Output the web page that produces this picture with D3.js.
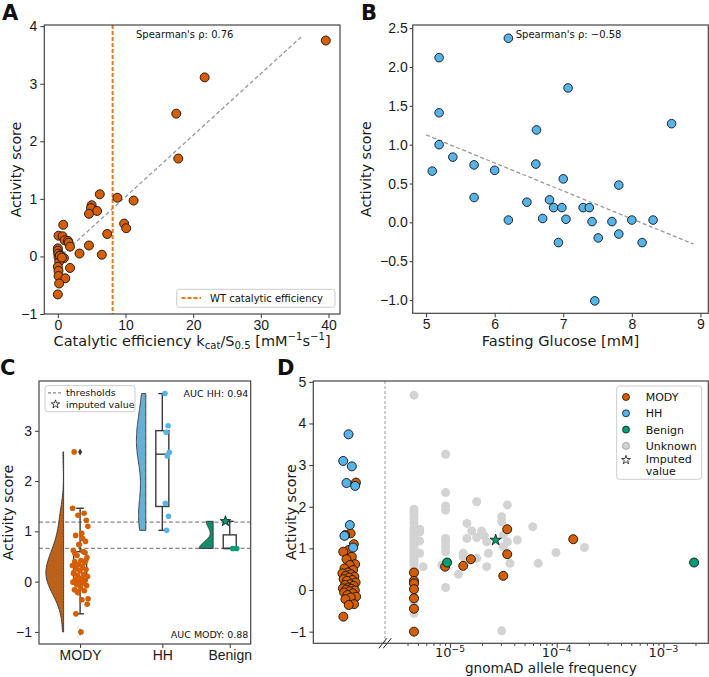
<!DOCTYPE html>
<html><head><meta charset="utf-8">
<script src="https://cdn.jsdelivr.net/npm/d3@7"></script>
<style>
body{margin:0;background:#fff;}
svg{display:block;font-family:"DejaVu Sans","Liberation Sans",sans-serif;}
text{white-space:pre;}
</style></head><body>
<svg id="fig" width="709" height="677"></svg>
<script>
// ================= DATA =================
// Panel A: catalytic efficiency vs activity score
const efficiencyA = [39.6,21.7,17.5,17.8,6.2,8.8,11.2,5.0,4.9,5.8,4.6,9.8,10.1,0.8,0.1,0.7,1.0,1.5,1.6,1.8,7.3,4.6,3.2,6.5,0.0,0.0,0.05,0.1,0.4,0.9,0.2,0.0,1.8,0.1,0.1,1.1,0.2,0.0,0.3,0.6];
const activityA   = [3.75,3.11,2.48,1.70,1.08,1.02,0.97,0.89,0.84,0.79,0.74,0.57,0.49,0.55,0.36,0.35,0.28,0.27,0.24,0.17,0.39,0.19,0.05,0.03,0.14,0.10,0.05,-0.01,0.02,-0.03,-0.09,-0.18,-0.20,-0.25,-0.34,-0.38,-0.47,-0.66,0.01,-0.02];
const wtEfficiency = 8.1;
const fitA = {slope:0.107, intercept:-0.035, from:0, to:36};
const spearmanA = "Spearman's ρ: 0.76";
const ticksAx = [0,10,20,30,40];
const ticksAy = [-1,0,1,2,3,4];

// Panel B: fasting glucose vs activity score
const glucoseB  = [6.20,5.19,7.07,5.19,8.58,6.61,5.19,5.39,6.60,5.70,6.00,5.09,7.00,7.81,5.70,6.47,6.80,6.86,6.98,7.29,7.38,6.20,6.70,7.04,7.42,7.71,8.00,8.31,6.93,7.51,7.81,8.15,7.46];
const activityB = [2.37,2.12,1.73,1.41,1.27,1.19,1.00,0.84,0.75,0.74,0.67,0.66,0.56,0.48,0.32,0.26,0.29,0.19,0.19,0.19,0.19,0.03,0.05,0.04,0.01,0.01,0.03,0.03,-0.26,-0.20,-0.15,-0.26,-1.01];
const fitB = {slope:-0.360, intercept:2.925, from:5.0, to:8.9};
const spearmanB = "Spearman's ρ: −0.58";
const ticksBx = [5,6,7,8,9];
const ticksBy = [-1.0,-0.5,0.0,0.5,1.0,1.5,2.0,2.5];

// Panel C / D: activity scores per group
const categories = ["MODY","HH","Benign"];
const modyAbsent = [2.58,1.36,1.32,1.10,0.96,0.92,0.80,0.74,0.62,0.60,0.52,0.48,0.42,0.40,0.38,0.34,0.32,0.30,0.26,0.24,0.22,0.18,0.14,0.12,0.10,0.06,0.04,0.03,0.01,-0.01,-0.03,-0.06,-0.08,-0.12,-0.16,-0.18,-0.22,-0.34,-0.36,-0.64];
const modyGnomadFreq  = [4.6e-6,4.6e-6,4.6e-6,4.6e-6,4.6e-6,4.6e-6,4.6e-6,9.0e-6,1.33e-5,1.57e-5,3.44e-5,3.44e-5,3.16e-5,1.43e-4];
const modyGnomadScore = [0.42,0.22,0.16,0.02,-0.20,-0.45,-1.00,0.56,0.58,0.74,1.46,0.86,0.34,1.22];
const hhAbsent = [3.74,3.10,2.97,2.57,2.50,1.56,1.30,1.02];
const benignFreq  = [9.4e-6,1.94e-3];
const benignScore = [0.66,0.66];
const imputedFreq = 2.68e-5;
const imputedScore = 1.2;
const thresholds = [0.66,1.185];
const aucHH = "AUC HH: 0.94";
const aucMODY = "AUC MODY: 0.88";
const ticksCy = [-1,0,1,2,3];

// Panel D: unknown variants (gnomAD allele frequency, activity score)
const unknownFreq = [
 4.6e-6,4.6e-6,4.6e-6,4.6e-6,4.6e-6,4.6e-6,4.6e-6,4.6e-6,4.6e-6,4.6e-6,4.6e-6,4.6e-6,4.6e-6,4.6e-6,4.6e-6,4.6e-6,4.6e-6,4.6e-6,
 4.6e-6,4.6e-6,4.6e-6,4.6e-6,4.6e-6,4.6e-6,4.6e-6,4.6e-6,4.6e-6,4.6e-6,4.6e-6,4.6e-6,4.6e-6,4.6e-6,4.6e-6,4.6e-6,4.6e-6,
 5.2e-6,5.2e-6,5.2e-6,5.2e-6,5.6e-6,8.4e-6,
 9.1e-6,9.1e-6,9.1e-6,9.1e-6,9.1e-6,9.1e-6,9.1e-6,9.1e-6,9.1e-6,
 1.2e-5,1.33e-5,1.33e-5,1.44e-5,1.44e-5,1.6e-5,1.78e-5,1.78e-5,1.78e-5,1.98e-5,2.1e-5,2.21e-5,2.21e-5,2.29e-5,
 3.05e-5,3.05e-5,3.05e-5,3.16e-5,3.16e-5,3.45e-5,3.45e-5,3.65e-5,4.28e-5,5.96e-5,6.72e-5,9.85e-5,1.82e-4];
const unknownScore = [
 4.68,1.94,1.86,1.78,1.70,1.62,1.52,1.44,1.38,1.31,1.26,1.20,1.14,1.08,1.02,0.97,0.92,0.86,
 0.81,0.76,0.70,0.66,0.61,0.52,0.47,0.36,0.28,0.24,0.12,0.06,-0.06,-0.14,-0.28,-0.40,-0.56,
 1.46,1.40,1.18,0.88,0.56,0.60,
 3.26,2.34,2.02,1.92,1.24,1.16,1.04,0.92,0.06,
 0.38,0.88,0.80,1.60,1.24,1.42,2.12,1.26,0.76,1.42,1.30,1.16,0.56,0.88,
 1.76,1.64,-0.98,1.32,1.04,2.04,1.16,0.64,1.20,1.52,0.64,0.90,1.02];
const ticksDy = [-1,0,1,2,3,4,5];
const ticksDxMajor = [1e-5,1e-4,1e-3];
const legendD = ["MODY","HH","Benign","Unknown"];

// ================= STYLE / LAYOUT =================
const COL = {MODY:"#d55e00", HH:"#56b4e9", Benign:"#029e73", Unknown:"#d3d3d3"};
const VIOLIN = {MODY:"#ba611b", HH:"#68afd7", Benign:"#168a6a"};
const FS = 14;
const LFS = 14.2;
const svg = d3.select("#fig");
const PA = {l:44.3, r:340, t:25, b:314};
const PB = {l:412.7, r:708.3, t:25, b:313.3};
const PC = {l:39, r:250.7, t:381, b:644};
const PD = {l:313.3, r:708.3, t:381, b:643.3, brk:385};

function styleAxis(g){
  g.select(".domain").remove();
  g.selectAll(".tick line").attr("stroke","#333").attr("stroke-width",1);
  g.selectAll(".tick text").attr("font-size",FS).attr("fill","#1a1a1a").attr("font-family",null);
}
function frame(P){
  svg.append("rect").attr("x",P.l).attr("y",P.t).attr("width",P.r-P.l).attr("height",P.b-P.t)
    .attr("fill","none").attr("stroke","#444").attr("stroke-width",1.2);
}
function yLabel(x,y,txt){
  svg.append("text").attr("transform",`translate(${x},${y}) rotate(-90)`).attr("text-anchor","middle")
    .attr("font-size",LFS).attr("fill","#1a1a1a").text(txt);
}
function panelLetter(x,y,t){
  svg.append("text").attr("x",x).attr("y",y).attr("font-size",21).attr("font-weight","bold").attr("fill","#111").text(t);
}
const jit = i => ((i*0.6180339887 + 0.13) % 1) - 0.5;

// ================= PANEL A =================
const xA = d3.scaleLinear().domain([-2,41.7]).range([PA.l,PA.r]);
const yA = d3.scaleLinear().domain([-1,4.02]).range([PA.b,PA.t]);
svg.append("g").attr("transform",`translate(0,${PA.b})`)
  .call(d3.axisBottom(xA).tickValues(ticksAx).tickSize(4).tickPadding(2).tickFormat(d3.format("d"))).call(styleAxis);
svg.append("g").attr("transform",`translate(${PA.l},0)`)
  .call(d3.axisLeft(yA).tickValues(ticksAy).tickSize(4).tickPadding(3).tickFormat(d3.format("d"))).call(styleAxis);
svg.append("line").attr("x1",xA(fitA.from)).attr("y1",yA(fitA.intercept+fitA.slope*fitA.from))
  .attr("x2",xA(fitA.to)).attr("y2",yA(fitA.intercept+fitA.slope*fitA.to))
  .attr("stroke","#999").attr("stroke-width",1.3).attr("stroke-dasharray","4,2.5");
svg.append("line").attr("x1",xA(wtEfficiency)).attr("x2",xA(wtEfficiency)).attr("y1",PA.t).attr("y2",PA.b)
  .attr("stroke","#e8781f").attr("stroke-width",2).attr("stroke-dasharray","4,2");
svg.append("g").selectAll("circle").data(efficiencyA).join("circle")
  .attr("cx",d=>xA(d)).attr("cy",(d,i)=>yA(activityA[i])).attr("r",4.5)
  .attr("fill",COL.MODY).attr("stroke","#111").attr("stroke-width",0.9);
svg.append("text").attr("x",136).attr("y",38).attr("font-size",10).attr("fill","#111").text(spearmanA);
svg.append("rect").attr("x",176.7).attr("y",289.3).attr("width",158.3).attr("height",18).attr("rx",2.5)
  .attr("fill","#fff").attr("fill-opacity",0.85).attr("stroke","#ccc");
svg.append("line").attr("x1",181.5).attr("x2",201).attr("y1",298).attr("y2",298)
  .attr("stroke","#e8781f").attr("stroke-width",2).attr("stroke-dasharray","4,2");
svg.append("text").attr("x",210).attr("y",301.8).attr("font-size",10).attr("fill","#111").text("WT catalytic efficiency");
frame(PA);
yLabel(20.5,(PA.t+PA.b)/2,"Activity score");
{
  const t = svg.append("text").attr("x",(PA.l+PA.r)/2).attr("y",345.5).attr("text-anchor","middle")
    .attr("font-size",14.5).attr("fill","#1a1a1a");
  t.append("tspan").text("Catalytic efficiency k");
  t.append("tspan").attr("font-size","70%").attr("dy",3.5).text("cat");
  t.append("tspan").attr("dy",-3.5).text("/S");
  t.append("tspan").attr("font-size","70%").attr("dy",3.5).text("0.5");
  t.append("tspan").attr("dy",-3.5).text(" [mM");
  t.append("tspan").attr("font-size","70%").attr("dy",-5.5).text("−1");
  t.append("tspan").attr("dy",5.5).text("s");
  t.append("tspan").attr("font-size","70%").attr("dy",-5.5).text("−1");
  t.append("tspan").attr("dy",5.5).text("]");
}
panelLetter(2,20,"A");

// ================= PANEL B =================
const xB = d3.scaleLinear().domain([4.805,9.115]).range([PB.l,PB.r]);
const yB = d3.scaleLinear().domain([-1.17,2.54]).range([PB.b,PB.t]);
svg.append("g").attr("transform",`translate(0,${PB.b})`)
  .call(d3.axisBottom(xB).tickValues(ticksBx).tickSize(4).tickPadding(2).tickFormat(d3.format("d"))).call(styleAxis);
svg.append("g").attr("transform",`translate(${PB.l},0)`)
  .call(d3.axisLeft(yB).tickValues(ticksBy).tickSize(3).tickPadding(2).tickFormat(d3.format(".1f"))).call(styleAxis);
svg.append("line").attr("x1",xB(fitB.from)).attr("y1",yB(fitB.intercept+fitB.slope*fitB.from))
  .attr("x2",xB(fitB.to)).attr("y2",yB(fitB.intercept+fitB.slope*fitB.to))
  .attr("stroke","#999").attr("stroke-width",1.3).attr("stroke-dasharray","4,2.5");
svg.append("g").selectAll("circle").data(glucoseB).join("circle")
  .attr("cx",d=>xB(d)).attr("cy",(d,i)=>yB(activityB[i])).attr("r",4.3)
  .attr("fill",COL.HH).attr("stroke","#111").attr("stroke-width",0.9);
svg.append("text").attr("x",515.7).attr("y",38).attr("font-size",10).attr("fill","#111").text(spearmanB);
frame(PB);
yLabel(370.5,(PB.t+PB.b)/2,"Activity score");
svg.append("text").attr("x",(PB.l+PB.r)/2).attr("y",346).attr("text-anchor","middle")
  .attr("font-size",14.6).attr("fill","#1a1a1a").text("Fasting Glucose [mM]");
panelLetter(361,20,"B");

// ================= PANEL C =================
const modyAll = modyAbsent.concat(modyGnomadScore);
const groups = {MODY: modyAll, HH: hhAbsent, Benign: benignScore.concat([imputedScore])};
const catPos = {MODY:0, HH:1, Benign:1.82};
const xC = d3.scaleLinear().domain([-0.5,2.075]).range([PC.l,PC.r]);
const yC = d3.scaleLinear().domain([-1.24,3.99]).range([PC.b,PC.t]);
svg.append("g").attr("transform",`translate(${PC.l},0)`)
  .call(d3.axisLeft(yC).tickValues(ticksCy).tickSize(4).tickPadding(3).tickFormat(d3.format("d"))).call(styleAxis);
svg.append("g").attr("transform",`translate(0,${PC.b})`)
  .call(d3.axisBottom(xC).tickValues(categories.map(c=>catPos[c])).tickSize(4).tickPadding(2)
    .tickFormat((d,i)=>categories[i])).call(styleAxis);
thresholds.forEach(v=>{
  svg.append("line").attr("x1",PC.l).attr("x2",PC.r).attr("y1",yC(v)).attr("y2",yC(v))
    .attr("stroke","#888").attr("stroke-width",1.2).attr("stroke-dasharray","4,2.5");
});
const violinW = {MODY:17.7, HH:9.4, Benign:14};
const violinGap = 16.5;
categories.forEach(c=>{
  const vals = groups[c].slice().sort(d3.ascending);
  const lo = vals[0], hi = vals[vals.length-1];
  const bw = 0.45*d3.deviation(vals);
  const grid = d3.range(0,121).map(k=>lo+(hi-lo)*k/120);
  const dens = grid.map(y=>d3.sum(vals,v=>Math.exp(-0.5*((y-v)/bw)**2)));
  const mx = d3.max(dens);
  const right = xC(catPos[c]) - violinGap;
  const area = d3.area().y(d=>yC(d[0])).x0(right).x1(d=>right - violinW[c]*d[1]/mx);
  svg.append("path").datum(grid.map((g,k)=>[g,dens[k]])).attr("d",area)
    .attr("fill",VIOLIN[c]).attr("stroke","#333").attr("stroke-width",0.9);
  const q1 = d3.quantile(vals,0.25), med = d3.quantile(vals,0.5), q3 = d3.quantile(vals,0.75);
  const iqr = q3-q1;
  const wlo = d3.min(vals.filter(v=>v>=q1-1.5*iqr)), whi = d3.max(vals.filter(v=>v<=q3+1.5*iqr));
  const cx = xC(catPos[c]), bwPx = 13, cap = 4;
  const g = svg.append("g").attr("stroke","#3a3a3a").attr("stroke-width",1.4);
  g.append("rect").attr("x",cx-bwPx/2).attr("width",bwPx).attr("y",yC(q3)).attr("height",Math.max(0.01,yC(q1)-yC(q3))).attr("fill","#fff");
  g.append("line").attr("x1",cx-bwPx/2).attr("x2",cx+bwPx/2).attr("y1",yC(med)).attr("y2",yC(med));
  g.append("line").attr("x1",cx).attr("x2",cx).attr("y1",yC(q3)).attr("y2",yC(whi));
  g.append("line").attr("x1",cx).attr("x2",cx).attr("y1",yC(q1)).attr("y2",yC(wlo));
  g.append("line").attr("x1",cx-cap).attr("x2",cx+cap).attr("y1",yC(whi)).attr("y2",yC(whi));
  g.append("line").attr("x1",cx-cap).attr("x2",cx+cap).attr("y1",yC(wlo)).attr("y2",yC(wlo));
  vals.filter(v=>v<wlo||v>whi).forEach(v=>{
    svg.append("path").attr("d",d3.symbol(d3.symbolDiamond,14)()).attr("transform",`translate(${cx},${yC(v)})`).attr("fill","#333");
  });
});
const stripOff = {MODY:0, HH:4.5, Benign:5}, stripHalf = {MODY:8, HH:2.5, Benign:2};
["MODY","HH"].forEach(c=>{
  svg.append("g").selectAll("circle").data(groups[c]).join("circle")
    .attr("cx",(d,i)=>xC(catPos[c])+stripOff[c]+2*stripHalf[c]*jit(i)).attr("cy",d=>yC(d)).attr("r",2.8)
    .attr("fill",COL[c]);
});
svg.append("g").selectAll("circle").data(benignScore).join("circle")
  .attr("cx",(d,i)=>xC(catPos.Benign)+stripOff.Benign+(i===0?-1:1)*stripHalf.Benign).attr("cy",d=>yC(d)).attr("r",2.8)
  .attr("fill",COL.Benign);
svg.append("path").attr("d",d3.symbol(d3.symbolStar,34)()).attr("transform",`translate(${xC(catPos.Benign)-4.3},${yC(imputedScore)})`)
  .attr("fill",COL.Benign).attr("stroke","#111").attr("stroke-width",0.8);
svg.append("text").attr("x",248.3).attr("y",397).attr("text-anchor","end").attr("font-size",9.5).attr("fill","#111").text(aucHH);
svg.append("text").attr("x",248.3).attr("y",638.3).attr("text-anchor","end").attr("font-size",9.5).attr("fill","#111").text(aucMODY);
svg.append("rect").attr("x",45).attr("y",385.7).attr("width",90).attr("height",26).attr("rx",2.5)
  .attr("fill","#fff").attr("fill-opacity",0.85).attr("stroke","#ccc");
svg.append("line").attr("x1",48).attr("x2",63).attr("y1",392.8).attr("y2",392.8)
  .attr("stroke","#888").attr("stroke-width",1.2).attr("stroke-dasharray","3,2");
svg.append("text").attr("x",66).attr("y",396.2).attr("font-size",9.5).attr("fill","#111").text("thresholds");
svg.append("path").attr("d",d3.symbol(d3.symbolStar,22)()).attr("transform","translate(55.5,404.3)")
  .attr("fill","#fff").attr("stroke","#111").attr("stroke-width",0.8);
svg.append("text").attr("x",66).attr("y",407.6).attr("font-size",9.5).attr("fill","#111").text("imputed value");
frame(PC);
yLabel(13.3,(PC.t+PC.b)/2,"Activity score");
panelLetter(0,375,"C");

// ================= PANEL D =================
const yD = d3.scaleLinear().domain([-1.28,5.02]).range([PD.b,PD.t]);
const xD = d3.scaleLog().domain([Math.pow(10,-5.609),Math.pow(10,-2.579)]).range([PD.brk,PD.r]);
const xAbsent = d3.scalePoint().domain(["absent"]).range([PD.l,PD.brk]).padding(0.5);
svg.append("g").attr("transform",`translate(${PD.l},0)`)
  .call(d3.axisLeft(yD).tickValues(ticksDy).tickSize(4).tickPadding(3).tickFormat(d3.format("d"))).call(styleAxis);
const minorD = [];
[-6,-5,-4,-3].forEach(e=>{ for(let m=2;m<=9;m++){ const v=m*Math.pow(10,e); if(v>=4e-6 && v<=2.6e-3) minorD.push(v);} });
svg.append("g").attr("transform",`translate(0,${PD.b})`)
  .call(d3.axisBottom(xD).tickValues(minorD).tickSize(2.5).tickFormat("")).call(styleAxis);
svg.append("g").attr("transform",`translate(0,${PD.b})`)
  .call(d3.axisBottom(xD).tickValues(ticksDxMajor).tickSize(4.5).tickFormat("")).call(styleAxis);
ticksDxMajor.forEach(v=>{
  const t = svg.append("text").attr("x",xD(v)).attr("y",PD.b+13.8).attr("text-anchor","middle").attr("font-size",13).attr("fill","#1a1a1a");
  t.append("tspan").text("10");
  t.append("tspan").attr("font-size","70%").attr("dy",-5.5).text("−" + Math.round(-Math.log10(v)));
});
svg.append("line").attr("x1",PD.brk).attr("x2",PD.brk).attr("y1",PD.t).attr("y2",PD.b)
  .attr("stroke","#999").attr("stroke-width",1).attr("stroke-dasharray","3,2");
svg.append("g").selectAll("circle").data(unknownFreq).join("circle")
  .attr("cx",d=>xD(d)).attr("cy",(d,i)=>yD(unknownScore[i])).attr("r",4.5).attr("fill",COL.Unknown);
svg.append("g").selectAll("circle").data(modyAbsent).join("circle")
  .attr("cx",(d,i)=>xAbsent("absent")+14*jit(i+3)).attr("cy",d=>yD(d)).attr("r",4.5)
  .attr("fill",COL.MODY).attr("stroke","#111").attr("stroke-width",0.9);
svg.append("g").selectAll("circle").data(hhAbsent).join("circle")
  .attr("cx",(d,i)=>xAbsent("absent")+14*jit(i+7)).attr("cy",d=>yD(d)).attr("r",4.5)
  .attr("fill",COL.HH).attr("stroke","#111").attr("stroke-width",0.9);
svg.append("g").selectAll("circle").data(modyGnomadFreq).join("circle")
  .attr("cx",d=>xD(d)).attr("cy",(d,i)=>yD(modyGnomadScore[i])).attr("r",4.5)
  .attr("fill",COL.MODY).attr("stroke","#111").attr("stroke-width",0.9);
svg.append("g").selectAll("circle").data(benignFreq).join("circle")
  .attr("cx",d=>xD(d)).attr("cy",(d,i)=>yD(benignScore[i])).attr("r",4.5)
  .attr("fill",COL.Benign).attr("stroke","#111").attr("stroke-width",0.9);
svg.append("path").attr("d",d3.symbol(d3.symbolStar,40)()).attr("transform",`translate(${xD(imputedFreq)},${yD(imputedScore)})`)
  .attr("fill",COL.Benign).attr("stroke","#111").attr("stroke-width",0.8);
[-2.2,2.2].forEach(dx=>{
  svg.append("line").attr("x1",PD.brk+dx-4).attr("y1",PD.b+5).attr("x2",PD.brk+dx+4).attr("y2",PD.b-5)
    .attr("stroke","#222").attr("stroke-width",1);
});
svg.append("rect").attr("x",616.7).attr("y",386).attr("width",85).attr("height",93.3).attr("rx",3)
  .attr("fill","#fff").attr("fill-opacity",0.85).attr("stroke","#ccc");
legendD.forEach((c,i)=>{
  const y = 397 + i*16.3;
  svg.append("circle").attr("cx",626).attr("cy",y).attr("r",3.5).attr("fill",COL[c])
    .attr("stroke",c==="Unknown"?"#999":"#111").attr("stroke-width",0.8);
  svg.append("text").attr("x",645.7).attr("y",y+4).attr("font-size",11).attr("fill","#111").text(c);
});
svg.append("path").attr("d",d3.symbol(d3.symbolStar,24)()).attr("transform","translate(626,460)")
  .attr("fill","#fff").attr("stroke","#111").attr("stroke-width",0.8);
svg.append("text").attr("x",645.7).attr("y",463).attr("font-size",11).attr("fill","#111").text("Imputed");
svg.append("text").attr("x",645.7).attr("y",474.5).attr("font-size",11).attr("fill","#111").text("value");
frame(PD);
yLabel(295.5,(PD.t+PD.b)/2,"Activity score");
svg.append("text").attr("x",550.8).attr("y",673).attr("text-anchor","middle")
  .attr("font-size",13.6).attr("fill","#1a1a1a").text("gnomAD allele frequency");
panelLetter(277,375,"D");
</script>
</body></html>
